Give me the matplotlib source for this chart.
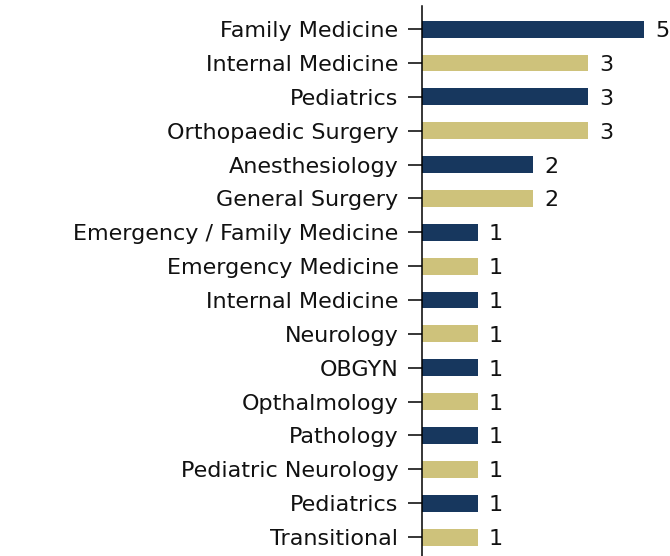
import matplotlib
matplotlib.use("Agg")
import matplotlib.pyplot as plt

# Данные (сверху вниз)
specialties = [
    "Family Medicine", "Internal Medicine", "Pediatrics", "Orthopaedic Surgery",
    "Anesthesiology", "General Surgery", "Emergency / Family Medicine",
    "Emergency Medicine", "Internal Medicine", "Neurology", "OBGYN",
    "Opthalmology", "Pathology", "Pediatric Neurology", "Pediatrics", "Transitional",
]
counts = [5, 3, 3, 3, 2, 2, 1, 1, 1, 1, 1, 1, 1, 1, 1, 1]

NAVY = "#17375E"
GOLD = "#CEC27B"
colors = [NAVY if i % 2 == 0 else GOLD for i in range(len(counts))]

plt.rcParams['font.family'] = ['DejaVu Sans']

fig = plt.figure(figsize=(6.7, 5.56), dpi=100)
ax = fig.add_axes([0.630, 0.0, 0.331, 0.989])

ypos = list(range(len(counts)))
ax.barh(ypos, counts, height=0.5, color=colors)

xmax = 4.0
ax.set_xlim(0, xmax)
ax.set_ylim(15.56, -0.68)
ax.set_yticks(ypos)
ax.set_yticklabels(specialties, fontsize=16, color="#111111")
ax.tick_params(axis='y', length=10, width=1.1, pad=7)
ax.tick_params(axis='x', bottom=False, labelbottom=False)
for lbl in ax.get_yticklabels():
    lbl.set_verticalalignment('center_baseline')

for s in ['top', 'right', 'bottom']:
    ax.spines[s].set_visible(False)
ax.spines['left'].set_linewidth(1.1)

# подписи значений (бар может выходить за пределы оси)
for y, v in zip(ypos, counts):
    ax.text(min(v, xmax) + 0.2, y, str(v), va='center_baseline', ha='left',
            fontsize=16, color="#111111", clip_on=False)

fig.savefig("out.png", dpi=100)
